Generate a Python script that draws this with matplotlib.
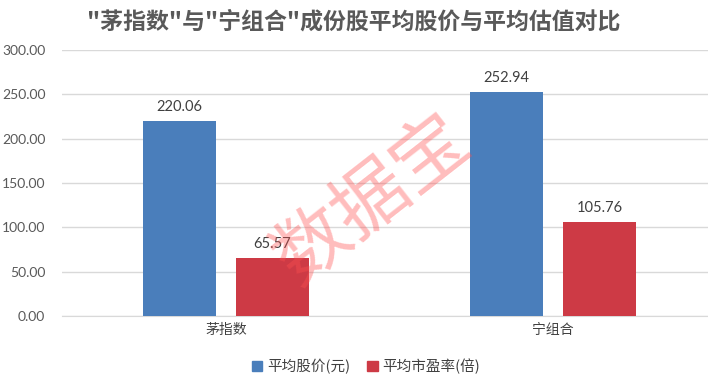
import matplotlib
matplotlib.use("Agg")
import matplotlib.pyplot as plt
from matplotlib.patches import Patch

plt.rcParams['font.family'] = ['Noto Sans CJK SC', 'DejaVu Sans']

categories = ["茅指数", "宁组合"]
series_names = ["平均股价(元)", "平均市盈率(倍)"]
avg_price = [220.06, 252.94]
avg_pe = [65.57, 105.76]
yticks = [0, 50, 100, 150, 200, 250, 300]
title = '"茅指数"与"宁组合"成份股平均股价与平均估值对比'

blue = "#4a7ebb"
red = "#cd3a45"

W, H = 708, 387
fig = plt.figure(figsize=(W / 100, H / 100), dpi=100)
ax = fig.add_axes([62 / W, (H - 316) / H, (708 - 62) / W, (316 - 50) / H])

x = list(range(len(categories)))
bw = 73 / 327
off = 46.5 / 327
b1 = ax.bar([i - off for i in x], avg_price, width=bw, color=blue, zorder=3)
b2 = ax.bar([i + off for i in x], avg_pe, width=bw, color=red, zorder=3)

for bars, vals in ((b1, avg_price), (b2, avg_pe)):
    for r, v in zip(bars, vals):
        ax.text(r.get_x() + r.get_width() / 2, v + 8, f"{v:.2f}", ha="center", va="bottom",
                fontsize=10.5, color="#404040", family=['Lato', 'DejaVu Sans'])

ax.set_xlim((62 - 226) / 327, (708 - 226) / 327)
ax.set_ylim(0, 300)
ax.set_yticks(yticks)
ax.set_yticklabels([f"{v:.2f}" for v in yticks], fontsize=10, color="#595959",
                   family=['Lato', 'DejaVu Sans'])
ax.set_xticks(x)
ax.set_xticklabels(categories, fontsize=10, color="#404040")
ax.tick_params(axis='both', length=0)
ax.tick_params(axis='y', pad=12)
ax.tick_params(axis='x', pad=5)
ax.grid(axis='y', color="#d9d9d9", linewidth=1, zorder=0)
for s in ["top", "right", "left"]:
    ax.spines[s].set_visible(False)
ax.spines["bottom"].set_color("#d9d9d9")

fig.text(0.5, 1 - 22 / H, title, ha="center", va="center", fontsize=16.5,
         fontweight="bold", color="#595959")

# watermark
fig.text(372 / W, 1 - 200 / H, "数据宝", ha="center", va="center", fontsize=54,
         color="#ff5050", alpha=0.38, rotation=38, zorder=10, fontweight="light")

handles = [Patch(color=blue), Patch(color=red)]
fig.legend(handles, series_names, loc="center", bbox_to_anchor=(366 / W, 1 - 366 / H),
           ncol=2, frameon=False, fontsize=10.5, handlelength=0.7, handleheight=0.7,
           handletextpad=0.3, columnspacing=1.2, labelcolor="#404040")

fig.savefig("out.png", dpi=100)
